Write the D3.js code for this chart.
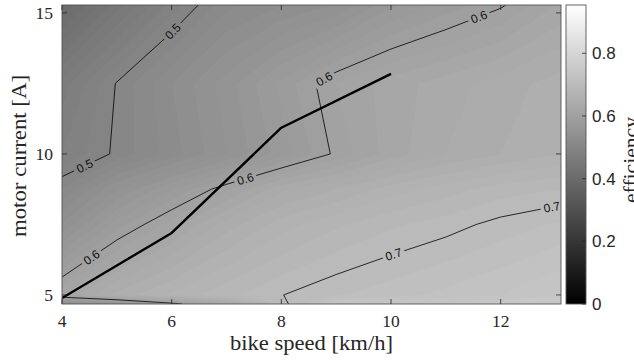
<!DOCTYPE html>
<html><head><meta charset="utf-8">
<script src="https://cdn.jsdelivr.net/npm/d3@7"></script>
<style>body{margin:0;background:#fff} svg{display:block}</style>
</head><body>
<svg id="c" width="634" height="360"></svg>
<script>
// ---------------- data ----------------
const speeds   = [4, 5, 6, 7, 8, 9, 10, 11, 12, 13.1];      // bike speed grid [km/h]
const currents = [4.68, 5, 7.5, 8.75, 10, 12.5, 15.28];      // motor current grid [A]
// efficiency, one row per current (bottom to top), columns follow speeds
const eff_i0468 = [0.540, 0.553, 0.5925, 0.632, 0.695, 0.7335, 0.738, 0.742, 0.745, 0.748];
const eff_i0500 = [0.620, 0.653, 0.672, 0.687, 0.6996, 0.709, 0.7156, 0.723, 0.730, 0.740];
const eff_i0750 = [0.541, 0.585, 0.615, 0.645, 0.665, 0.678, 0.688, 0.695, 0.704, 0.712];
const eff_i0875 = [0.511, 0.550, 0.579, 0.608, 0.6375, 0.650, 0.665, 0.675, 0.685, 0.690];
const eff_i1000 = [0.480, 0.503, 0.525, 0.550, 0.575, 0.603, 0.625, 0.640, 0.650, 0.660];
const eff_i1250 = [0.465, 0.501, 0.530, 0.555, 0.583, 0.610, 0.625, 0.635, 0.645, 0.655];
const eff_i1528 = [0.400, 0.446, 0.484, 0.517, 0.530, 0.541, 0.568, 0.584, 0.598, 0.622];
// operating path (thick line)
const pathSpeed   = [4, 6, 8, 10];
const pathCurrent = [4.89, 7.2, 10.93, 12.84];
// labelled contour levels and label anchors (speed, current)
const lineLevels = [0.5, 0.6, 0.7];
const labelLevel   = [0.5, 0.5, 0.6, 0.6, 0.6, 0.6, 0.7, 0.7];
const labelSpeed   = [4.42, 6.03, 4.55, 7.34, 8.77, 11.62, 10.05, 12.93];
const labelCurrent = [9.54, 14.33, 6.31, 9.15, 12.7, 14.78, 6.42, 8.15];
const xTicks = [4, 6, 8, 10, 12];
const yTicks = [5, 10, 15];
const cTicks = [0, 0.2, 0.4, 0.6, 0.8];
const cMax = 0.954;

// ---------------- setup ----------------
const rows = [eff_i0468, eff_i0500, eff_i0750, eff_i0875, eff_i1000, eff_i1250, eff_i1528];
const nx = speeds.length, ny = currents.length;
const grid = [];
rows.forEach(r => r.forEach(v => grid.push(v)));

const L = 62, R = 561, T = 5, B = 304;
const x = d3.scaleLinear().domain(d3.extent(speeds)).range([L, R]);
const y = d3.scaleLinear().domain(d3.extent(currents)).range([B, T]);
const gray = d3.scaleLinear().domain([0, cMax]).range(["#000000", "#ffffff"]);
const gx = d3.scaleLinear().domain(d3.range(nx)).range(speeds).clamp(true);
const gy = d3.scaleLinear().domain(d3.range(ny)).range(currents).clamp(true);
const toPx = p => [x(gx(p[0] - 0.5)), y(gy(p[1] - 0.5))];

const serif = "'Liberation Serif','Times New Roman',serif";
const sans = "'Liberation Sans',Arial,Helvetica,sans-serif";

const svg = d3.select("#c");
const defs = svg.append("defs");
defs.append("clipPath").attr("id", "plotclip").append("rect")
  .attr("x", L).attr("y", T).attr("width", R - L).attr("height", B - T);

const contours = d3.contours().size([nx, ny]).smooth(true);

// ---------------- filled contours ----------------
const levels = d3.range(30, 96).map(k => k / 100);
const gFill = svg.append("g").attr("clip-path", "url(#plotclip)");
function polyPath(mp) {
  return mp.coordinates.map(poly => poly.map(ring =>
    "M" + ring.map(p => toPx(p).map(v => v.toFixed(2)).join(",")).join("L") + "Z").join("")).join("");
}
levels.forEach(t => {
  const c = contours.contour(grid, t);
  if (!c.coordinates.length) return;
  gFill.append("path").attr("d", polyPath(c)).attr("fill", gray(t + 0.005))
    .attr("fill-rule", "evenodd").attr("stroke", gray(t + 0.005)).attr("stroke-width", 0.3);
});

// ---------------- contour lines ----------------
function isoLines(level) {
  const c = contours.contour(grid, level);
  const eps = 1e-9;
  const code = p => (p[0] <= 0.5 + eps ? 1 : 0) | (p[0] >= nx - 0.5 - eps ? 2 : 0) |
                    (p[1] <= 0.5 + eps ? 4 : 0) | (p[1] >= ny - 0.5 - eps ? 8 : 0);
  const lines = [];
  c.coordinates.forEach(poly => poly.forEach(ring => {
    const n = ring.length - 1;
    const bnd = [];
    for (let i = 0; i < n; i++) bnd.push((code(ring[i]) & code(ring[i + 1])) !== 0);
    if (!bnd.some(b => b)) { lines.push(ring.map(toPx)); return; }
    const start = bnd.findIndex(b => b);
    let cur = null;
    for (let k = 1; k <= n; k++) {
      const i = (start + k) % n;
      if (bnd[i]) { if (cur) { lines.push(cur); cur = null; } }
      else { if (!cur) cur = [toPx(ring[i])]; cur.push(toPx(ring[i + 1])); }
    }
    if (cur) lines.push(cur);
  }));
  return lines;
}
const lineSets = {};
lineLevels.forEach(l => lineSets[l] = isoLines(l));

function nearest(lines, px, py) {
  let best = { d: Infinity };
  lines.forEach(l => {
    for (let i = 0; i < l.length - 1; i++) {
      const [ax, ay] = l[i], [bx, by] = l[i + 1];
      const dx = bx - ax, dy = by - ay, LL = dx * dx + dy * dy;
      let t = LL ? ((px - ax) * dx + (py - ay) * dy) / LL : 0;
      t = Math.max(0, Math.min(1, t));
      const qx = ax + t * dx, qy = ay + t * dy;
      const d = (qx - px) ** 2 + (qy - py) ** 2;
      if (d < best.d) best = { d, x: qx, y: qy, ang: Math.atan2(dy, dx) * 180 / Math.PI };
    }
  });
  if (best.ang > 90) best.ang -= 180;
  if (best.ang < -90) best.ang += 180;
  return best;
}

const mask = defs.append("mask").attr("id", "gaps").attr("maskUnits", "userSpaceOnUse")
  .attr("x", 0).attr("y", 0).attr("width", 634).attr("height", 360);
mask.append("rect").attr("x", 0).attr("y", 0).attr("width", 634).attr("height", 360).attr("fill", "#fff");

const gLines = svg.append("g").attr("clip-path", "url(#plotclip)");
const gLinesInner = gLines.append("g").attr("mask", "url(#gaps)");
const lineGen = d3.line();
lineLevels.forEach(l => {
  lineSets[l].forEach(pl => {
    gLinesInner.append("path").attr("d", lineGen(pl)).attr("fill", "none")
      .attr("stroke", "#000").attr("stroke-width", 0.8);
  });
});

const gLabels = svg.append("g").attr("clip-path", "url(#plotclip)");
labelLevel.forEach((lv, i) => {
  const nb = nearest(lineSets[lv], x(labelSpeed[i]), y(labelCurrent[i]));
  if (!isFinite(nb.d)) return;
  const txt = gLabels.append("text")
    .attr("transform", `translate(${nb.x},${nb.y}) rotate(${nb.ang})`)
    .attr("text-anchor", "middle").attr("dy", "0.36em")
    .attr("font-family", sans).attr("font-size", 12).attr("fill", "#111")
    .text(String(lv));
  const w = txt.node().getComputedTextLength();
  mask.append("rect").attr("x", -w / 2 - 3).attr("y", -6).attr("width", w + 6).attr("height", 12)
    .attr("transform", `translate(${nb.x},${nb.y}) rotate(${nb.ang})`).attr("fill", "#000");
});

// ---------------- operating path ----------------
svg.append("g").attr("clip-path", "url(#plotclip)").append("path")
  .attr("d", d3.line().x((d, i) => x(pathSpeed[i])).y((d, i) => y(pathCurrent[i]))(pathSpeed))
  .attr("fill", "none").attr("stroke", "#000").attr("stroke-width", 2.4)
  .attr("stroke-linejoin", "round");

// ---------------- axes ----------------
const axCol = "#262626";
svg.append("rect").attr("x", L).attr("y", T).attr("width", R - L).attr("height", B - T)
  .attr("fill", "none").attr("stroke", "#555").attr("stroke-width", 0.9);
const gAx = svg.append("g").attr("stroke", axCol).attr("stroke-width", 0.8);
xTicks.forEach(v => {
  gAx.append("line").attr("x1", x(v)).attr("x2", x(v)).attr("y1", B).attr("y2", B - 5);
  gAx.append("line").attr("x1", x(v)).attr("x2", x(v)).attr("y1", T).attr("y2", T + 5);
});
yTicks.forEach(v => {
  gAx.append("line").attr("x1", L).attr("x2", L + 5).attr("y1", y(v)).attr("y2", y(v));
  gAx.append("line").attr("x1", R).attr("x2", R - 5).attr("y1", y(v)).attr("y2", y(v));
});
const gT = svg.append("g");
xTicks.forEach(v => gT.append("text").attr("x", x(v)).attr("y", 327).attr("text-anchor", "middle")
  .attr("font-family", serif).attr("font-size", 17.5).attr("fill", axCol).text(v));
yTicks.forEach(v => gT.append("text").attr("x", 53).attr("y", y(v) + 6).attr("text-anchor", "end")
  .attr("font-family", serif).attr("font-size", 17.5).attr("fill", axCol).text(v));

svg.append("text").attr("x", 311.5).attr("y", 350).attr("text-anchor", "middle")
  .attr("font-family", serif).attr("font-size", 20).attr("fill", axCol)
  .attr("textLength", 163).attr("lengthAdjust", "spacingAndGlyphs").text("bike speed [km/h]");
svg.append("text").attr("transform", "translate(26,156) rotate(-90)").attr("text-anchor", "middle")
  .attr("font-family", serif).attr("font-size", 20).attr("fill", axCol)
  .attr("textLength", 162).attr("lengthAdjust", "spacingAndGlyphs").text("motor current [A]");

// ---------------- colorbar ----------------
const cbL = 566, cbR = 586;
const cy = d3.scaleLinear().domain([0, cMax]).range([B, T]);
const grad = defs.append("linearGradient").attr("id", "cbgrad")
  .attr("x1", 0).attr("y1", 1).attr("x2", 0).attr("y2", 0);
grad.append("stop").attr("offset", 0).attr("stop-color", gray(0));
grad.append("stop").attr("offset", 1).attr("stop-color", gray(cMax));
svg.append("rect").attr("x", cbL).attr("y", T).attr("width", cbR - cbL).attr("height", B - T)
  .attr("fill", "url(#cbgrad)").attr("stroke", "#555").attr("stroke-width", 0.9);
const gC = svg.append("g");
cTicks.forEach(v => {
  gC.append("line").attr("x1", cbR).attr("x2", cbR - 4).attr("y1", cy(v)).attr("y2", cy(v))
    .attr("stroke", axCol).attr("stroke-width", 0.8);
  gC.append("text").attr("x", 592).attr("y", cy(v) + 6).attr("font-family", sans)
    .attr("font-size", 17).attr("fill", axCol).text(v === 0 ? "0" : v.toFixed(1));
});
svg.append("text").attr("transform", "translate(638,160) rotate(-90)").attr("text-anchor", "middle")
  .attr("font-family", serif).attr("font-size", 20).attr("fill", axCol)
  .attr("textLength", 86).attr("lengthAdjust", "spacingAndGlyphs").text("efficiency");
</script>
</body></html>
